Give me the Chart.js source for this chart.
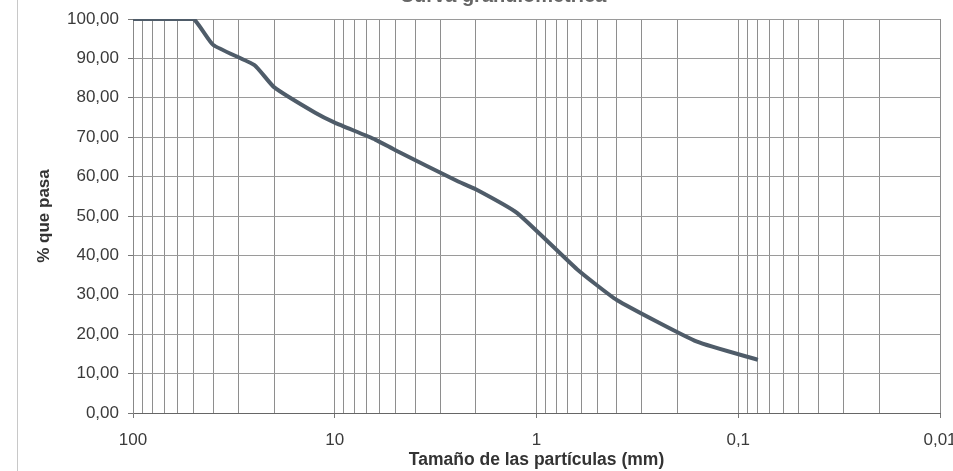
<!DOCTYPE html>
<html>
<head>
<meta charset="utf-8">
<script src="https://cdn.jsdelivr.net/npm/chart.js@4/dist/chart.umd.min.js"></script>
<style>
  html, body { margin: 0; padding: 0; background: #fff; overflow: hidden; }
  #wrap { position: relative; width: 953px; height: 471px; }
  #chart { display: block; }
  #edge { position: absolute; left: 17px; top: 0; width: 1px; height: 471px; background: #c8c8c8; }
</style>
</head>
<body>
<div id="wrap">
  <canvas id="chart" width="953" height="471"></canvas>
  <div id="edge"></div>
</div>
<script>
// Curva granulométrica
const tamanos = [100, 63, 50, 40, 25, 20, 12.5, 10, 6.3, 5, 2.5, 2, 1.25, 0.63, 0.4, 0.16, 0.08];
const pasa    = [100, 100, 100, 93.4, 88.3, 82.7, 76.2, 73.7, 69.4, 66.7, 59.0, 56.8, 50.8, 36.5, 28.7, 18.1, 13.5];

// ejes
const xMajor = [100, 10, 1, 0.1, 0.01];
const xMajorLabels = ['100', '10', '1', '0,1', '0,01'];
const yMin = 0, yMax = 100, yStep = 10;
const titulo = 'Curva granulométrica';

// lineas verticales de la grilla log (1..9 x 10^n)
const xGrid = [];
for (let e = -2; e <= 1; e++) {
  for (let k = 1; k <= 9; k++) xGrid.push(Number((k * Math.pow(10, e)).toPrecision(3)));
}
xGrid.push(100);

const FONT = "'Liberation Sans', Arial, sans-serif";

const puntos = tamanos.map((t, i) => ({ x: t, y: pasa[i] }));

// titulo recortado arriba, como en la hoja escaneada
const tituloPlugin = {
  id: 'tituloCortado',
  afterDraw(chart) {
    const ctx = chart.ctx;
    ctx.save();
    ctx.font = 'bold 20px ' + FONT;
    ctx.fillStyle = '#666';
    ctx.textAlign = 'center';
    ctx.textBaseline = 'alphabetic';
    ctx.fillText(titulo, 503, 2);
    ctx.restore();
  }
};

new Chart(document.getElementById('chart'), {
  type: 'scatter',
  data: {
    datasets: [{
      data: puntos,
      showLine: true,
      borderColor: '#4f5c69',
      borderWidth: 4,
      pointRadius: 0,
      tension: 0.15,
      fill: false
    }]
  },
  plugins: [tituloPlugin],
  options: {
    responsive: false,
    devicePixelRatio: 1,
    animation: false,
    layout: { padding: { left: 0, right: 13, top: 19, bottom: 0 } },
    plugins: {
      legend: { display: false },
      tooltip: { enabled: false }
    },
    scales: {
      x: {
        type: 'logarithmic',
        reverse: true,
        min: 0.01,
        max: 100,
        afterBuildTicks: (scale) => {
          scale.ticks = xGrid.map(v => ({ value: v, major: xMajor.includes(v) }));
        },
        afterFit: (scale) => {
          scale.height = 58;
          scale.paddingLeft = 0;
          scale.paddingRight = 0;
        },
        ticks: {
          autoSkip: false,
          maxRotation: 0,
          padding: 12,
          color: '#3a3a3a',
          font: { family: FONT, size: 17 },
          callback: (value) => {
            const i = xMajor.indexOf(Number(value));
            return i >= 0 ? xMajorLabels[i] : '';
          }
        },
        grid: {
          color: '#8e8e8e',
          lineWidth: 1,
          tickLength: 5,
          tickColor: (ctx) => (ctx.tick && xMajor.includes(ctx.tick.value)) ? '#777' : 'rgba(0,0,0,0)'
        },
        border: { color: '#666', width: 1 },
        title: {
          display: true,
          text: 'Tamaño de las partículas (mm)',
          color: '#333',
          font: { family: FONT, size: 17.5, weight: 'bold' },
          padding: { top: 0, bottom: 0 }
        }
      },
      y: {
        min: yMin,
        max: yMax,
        afterFit: (scale) => {
          scale.width = 133;
          scale.paddingTop = 0;
          scale.paddingBottom = 0;
        },
        ticks: {
          stepSize: yStep,
          padding: 9,
          color: '#3a3a3a',
          font: { family: FONT, size: 17 },
          callback: (v) => Number(v).toFixed(2).replace('.', ',')
        },
        grid: { color: '#9a9a9a', lineWidth: 1, tickLength: 5, tickColor: '#777' },
        border: { color: '#888', width: 1 },
        title: {
          display: true,
          text: '% que pasa',
          color: '#333',
          font: { family: FONT, size: 17, weight: 'bold' },
          padding: { top: 34, bottom: 0 }
        }
      }
    }
  }
});
</script>
</body>
</html>
